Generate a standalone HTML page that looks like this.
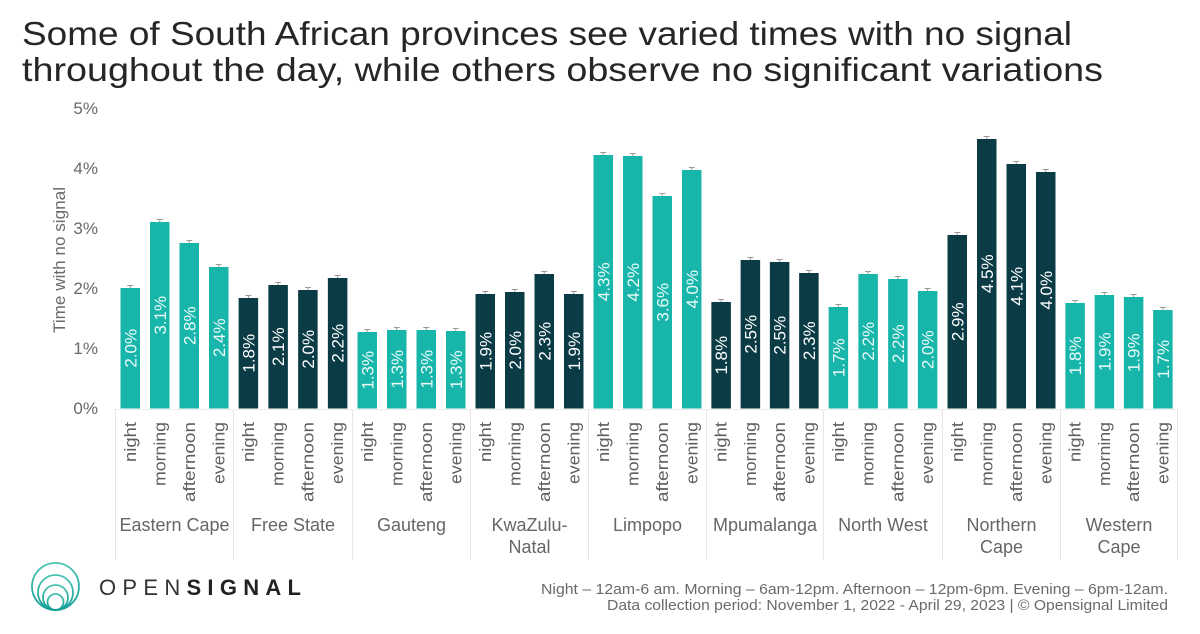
<!DOCTYPE html>
<html><head><meta charset="utf-8"><style>
html,body{margin:0;padding:0;background:#fff;}
svg{display:block;}
text{font-family:"Liberation Sans",sans-serif;}
</style></head><body>
<svg width="1200" height="634" viewBox="0 0 1200 634" xmlns="http://www.w3.org/2000/svg">
<rect width="1200" height="634" fill="#fff"/>
<!-- Title -->
<text x="22" y="45" font-size="33" fill="#262626" textLength="1050" lengthAdjust="spacingAndGlyphs">Some of South African provinces see varied times with no signal</text>
<text x="22" y="81" font-size="33" fill="#262626" textLength="1081" lengthAdjust="spacingAndGlyphs">throughout the day, while others observe no significant variations</text>

<!-- Y axis -->
<g font-size="17" fill="#6a6a6a" text-anchor="end">
<text x="98" y="114">5%</text>
<text x="98" y="174">4%</text>
<text x="98" y="234">3%</text>
<text x="98" y="294">2%</text>
<text x="98" y="354">1%</text>
<text x="98" y="414">0%</text>
</g>
<text transform="translate(65,260) rotate(-90)" font-size="17" fill="#6a6a6a" text-anchor="middle" textLength="146" lengthAdjust="spacingAndGlyphs">Time with no signal</text>

<!-- category area lines -->
<line x1="115" y1="409.5" x2="1178" y2="409.5" stroke="#ececec" stroke-width="1"/>
<g stroke="#e6e6e6" stroke-width="1">
<line x1="115.5" y1="410" x2="115.5" y2="560"/>
<line x1="233.5" y1="410" x2="233.5" y2="560"/>
<line x1="352.5" y1="410" x2="352.5" y2="560"/>
<line x1="470.5" y1="410" x2="470.5" y2="560"/>
<line x1="588.5" y1="410" x2="588.5" y2="560"/>
<line x1="706.5" y1="410" x2="706.5" y2="560"/>
<line x1="823.5" y1="410" x2="823.5" y2="560"/>
<line x1="942.5" y1="410" x2="942.5" y2="560"/>
<line x1="1060.5" y1="410" x2="1060.5" y2="560"/>
<line x1="1177.5" y1="410" x2="1177.5" y2="560"/>
</g>

<g id="bars"></g>
<g id="labels"></g>

<!-- Logo -->
<defs>
<linearGradient id="lg" x1="0" y1="0" x2="0" y2="1">
<stop offset="0" stop-color="#4cc3b3"/>
<stop offset="1" stop-color="#159f96"/>
</linearGradient>
</defs>
<g fill="none" stroke="url(#lg)" stroke-width="1.8">
<circle cx="55.5" cy="586.5" r="23.5"/>
<circle cx="55.5" cy="592.5" r="17.5"/>
<circle cx="55.5" cy="597.5" r="12.5"/>
<circle cx="55.5" cy="602" r="8"/>
</g>
<text x="99" y="595" font-size="22" fill="#222" textLength="207" lengthAdjust="spacing" letter-spacing="5"><tspan font-weight="300" fill="#333">OPEN</tspan><tspan font-weight="bold">SIGNAL</tspan></text>

<!-- Footer -->
<g font-size="14.5" fill="#6a6a6a" text-anchor="end">
<text x="1168" y="594" textLength="627" lengthAdjust="spacingAndGlyphs">Night – 12am-6 am. Morning – 6am-12pm. Afternoon – 12pm-6pm. Evening – 6pm-12am.</text>
<text x="1168" y="610" textLength="561" lengthAdjust="spacingAndGlyphs">Data collection period: November 1, 2022 - April 29, 2023 | © Opensignal Limited</text>
</g>

<script>
(function(){
var NS="http://www.w3.org/2000/svg";
var groups=[
 ["Eastern Cape",null,"t",[288,222,243,267],["2.0%","3.1%","2.8%","2.4%"]],
 ["Free State",null,"d",[298,285,290,278],["1.8%","2.1%","2.0%","2.2%"]],
 ["Gauteng",null,"t",[332,330,330,331],["1.3%","1.3%","1.3%","1.3%"]],
 ["KwaZulu-","Natal","d",[294,292,274,294],["1.9%","2.0%","2.3%","1.9%"]],
 ["Limpopo",null,"t",[155,156,196,170],["4.3%","4.2%","3.6%","4.0%"]],
 ["Mpumalanga",null,"d",[302,260,262,273],["1.8%","2.5%","2.5%","2.3%"]],
 ["North West",null,"t",[307,274,279,291],["1.7%","2.2%","2.2%","2.0%"]],
 ["Northern","Cape","d",[235,139,164,172],["2.9%","4.5%","4.1%","4.0%"]],
 ["Western","Cape","t",[303,295,297,310],["1.8%","1.9%","1.9%","1.7%"]]
];
var starts=[115.5,233.5,352.5,470.5,588.5,706.5,823.5,942.5,1060.5,1177.5];
var names=["night","morning","afternoon","evening"];
var lens=[40,64,80,62];
var bars=document.getElementById("bars"), labs=document.getElementById("labels");
function el(t,a,p,txt){var e=document.createElementNS(NS,t);for(var k in a)e.setAttribute(k,a[k]);if(txt!=null)e.textContent=txt;p.appendChild(e);return e;}
var base=408.5;
groups.forEach(function(g,gi){
 var s=starts[gi], w=(starts[gi+1]-s)/4;
 var col=g[2]=="t"?"#17b5aa":"#0b3c46";
 var tcol=g[2]=="t"?"#eafaf8":"#ffffff";
 for(var i=0;i<4;i++){
  var cx=s+w*(i+0.5);
  var top=g[3][i];
  el("rect",{x:cx-9.75,y:top,width:19.5,height:base-top,fill:col},bars);
  el("line",{x1:cx-3,y1:top-2.5,x2:cx+3,y2:top-2.5,stroke:"#9a9a9a","stroke-width":"1"},bars);
  el("line",{x1:cx,y1:top-2.5,x2:cx,y2:top,stroke:"#9a9a9a","stroke-width":"1"},bars);
  var my=(top+base)/2;
  el("text",{transform:"translate("+(cx+6)+","+my+") rotate(-90)","font-size":"17","fill":tcol,"text-anchor":"middle"},labs,g[4][i]);
  el("text",{transform:"translate("+(cx+5.5)+",422) rotate(-90)","font-size":"17","fill":"#5e5e5e","text-anchor":"end",textLength:lens[i],lengthAdjust:"spacingAndGlyphs"},labs,names[i]);
 }
 var gc=(s+starts[gi+1])/2;
 el("text",{x:gc,y:531,"font-size":"18","fill":"#666","text-anchor":"middle"},labs,g[0]);
 if(g[1]) el("text",{x:gc,y:553,"font-size":"18","fill":"#666","text-anchor":"middle"},labs,g[1]);
});
})();
</script>
</svg>
</body></html>
